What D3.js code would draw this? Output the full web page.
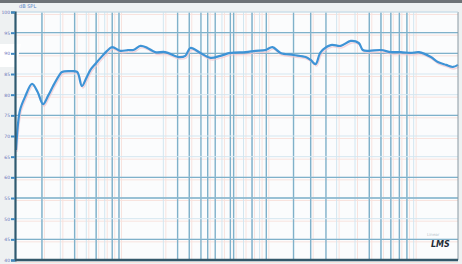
<!DOCTYPE html>
<html>
<head>
<meta charset="utf-8">
<script src="https://cdn.jsdelivr.net/npm/d3@7"></script>
<style>
  body { margin: 0; background: #eef1f2; }
  svg { display: block; }
</style>
</head>
<body>
<div id="viz"></div>
<script>
// frequency response
var freqs = [20, 20.6, 21.3, 23, 25.7, 28, 30.5, 33, 35.7, 39, 41, 47, 52, 56, 60, 64, 69, 75, 83, 90,
             102, 115, 125, 140, 156, 176, 206, 253, 282, 305, 357, 418, 488, 571, 723, 845, 988, 1100,
             1250, 1530, 1850, 2000, 2160, 2340, 2740, 3200, 3740, 4240, 4520, 4970, 5990, 7000, 8190,
             9580, 10860, 13100, 14600, 16600, 18500, 20000];
var spl = [66.6, 72.7, 76.3, 79.4, 82.6, 80.7, 77.7, 79.7, 82.1, 84.5, 85.5, 85.7, 85.5, 82.1, 84.0,
           86.0, 87.4, 88.9, 90.6, 91.5, 90.6, 90.8, 90.8, 91.8, 91.3, 90.3, 90.3, 89.1, 89.4, 91.3,
           90.1, 88.9, 89.4, 90.1, 90.3, 90.6, 90.8, 91.5, 90.1, 89.6, 89.1, 88.4, 87.4, 90.3, 92.0,
           91.8, 93.0, 92.5, 90.8, 90.6, 90.8, 90.3, 90.3, 90.1, 90.3, 89.1, 87.9, 87.2, 86.7, 87.2];

var gridFreqs = [30, 40, 50, 60, 70, 80, 90, 100, 200, 300, 400, 500, 600, 700, 800, 900, 1000,
                 2000, 3000, 4000, 5000, 6000, 7000, 8000, 9000, 10000];
var darkFreqs = [30, 50, 70, 90, 100, 250, 300, 360, 400, 450, 570, 600, 800, 1000, 1530, 2000,
                 2540, 5000, 6000, 7000, 8000, 9000];
var dbTicks = [100, 95, 90, 85, 80, 75, 70, 65, 60, 55, 50, 45, 40];
var darkDb = [95, 90, 75, 60, 55, 45];

var W = 462, H = 264;
var m = {left: 15, right: 4, top: 12, bottom: 4};

var svg = d3.select("#viz").append("svg")
    .attr("width", W)
    .attr("height", H);

var x = d3.scaleLog().domain([20, 20000]).range([m.left + 1, W - m.right]);
var y = d3.scaleLinear().domain([40, 100]).range([H - m.bottom, m.top]);

// plot background
svg.append("rect")
    .attr("x", m.left).attr("y", m.top)
    .attr("width", W - m.right - m.left).attr("height", H - m.bottom - m.top)
    .style("fill", "#fbfcfd");

// scan colour fringing
svg.append("g").selectAll("line")
    .data(gridFreqs)
    .enter().append("line")
    .attr("x1", function(d) { return x(d) + 2.5; })
    .attr("x2", function(d) { return x(d) + 2.5; })
    .attr("y1", m.top).attr("y2", H - m.bottom)
    .style("stroke", "#f8e3de").style("stroke-width", 1);

svg.append("g").selectAll("line")
    .data(dbTicks)
    .enter().append("line")
    .attr("x1", m.left).attr("x2", W - m.right)
    .attr("y1", function(d) { return y(d) + 2.5; })
    .attr("y2", function(d) { return y(d) + 2.5; })
    .style("stroke", "#f8e3de").style("stroke-width", 1);

// grid
svg.append("g").selectAll("line")
    .data(gridFreqs)
    .enter().append("line")
    .attr("x1", function(d) { return x(d); })
    .attr("x2", function(d) { return x(d); })
    .attr("y1", m.top).attr("y2", H - m.bottom)
    .style("stroke", "#d2e6f0").style("stroke-width", 1);

svg.append("g").selectAll("line")
    .data(darkFreqs)
    .enter().append("line")
    .attr("x1", function(d) { return x(d); })
    .attr("x2", function(d) { return x(d); })
    .attr("y1", m.top).attr("y2", H - m.bottom)
    .style("stroke", "#7fb1ca").style("stroke-width", 1.4);

svg.append("g").selectAll("line")
    .data(dbTicks)
    .enter().append("line")
    .attr("x1", m.left).attr("x2", W - m.right)
    .attr("y1", function(d) { return y(d); })
    .attr("y2", function(d) { return y(d); })
    .style("stroke", "#d5e7f0").style("stroke-width", 1);

svg.append("g").selectAll("line")
    .data(darkDb)
    .enter().append("line")
    .attr("x1", m.left).attr("x2", W - m.right)
    .attr("y1", function(d) { return y(d); })
    .attr("y2", function(d) { return y(d); })
    .style("stroke", "#7fb1ca").style("stroke-width", 1.4);

// response curve
var line = d3.line()
    .x(function(d, i) { return x(freqs[i]); })
    .y(function(d) { return y(d); })
    .curve(d3.curveCatmullRom);

svg.append("path")
    .datum(spl)
    .attr("d", line)
    .attr("transform", "translate(1,2)")
    .style("fill", "none").style("stroke", "#f1c3cc").style("stroke-width", 1.4).style("opacity", 0.7);

svg.append("path")
    .datum(spl)
    .attr("d", line)
    .style("fill", "none").style("stroke", "#3e93d6").style("stroke-width", 2.2)
    .style("stroke-linejoin", "round");

// frame
svg.append("rect").attr("x", 0).attr("y", 0).attr("width", W).attr("height", 3).style("fill", "#6d7276");
svg.append("line")
    .attr("x1", W - m.right).attr("x2", W - m.right).attr("y1", m.top).attr("y2", H - m.bottom)
    .style("stroke", "#8a9aa3").style("stroke-width", 1);
svg.append("line")
    .attr("x1", m.left).attr("x2", W - m.right).attr("y1", m.top).attr("y2", m.top)
    .style("stroke", "#c8dbe6").style("stroke-width", 1);
svg.append("line")
    .attr("x1", m.left).attr("x2", W - m.right).attr("y1", H - m.bottom).attr("y2", H - m.bottom)
    .style("stroke", "#34596b").style("stroke-width", 2.5);

// white scrap over the axis
svg.append("polygon")
    .attr("points", "0,44 21,44 16,67 0,67")
    .style("fill", "#ffffff");

// y axis
var yAxis = d3.axisLeft(y).tickValues(dbTicks).tickSize(4).tickFormat(d3.format("d"));
var ya = svg.append("g")
    .attr("transform", "translate(" + m.left + ",0)")
    .call(yAxis);
ya.select(".domain").style("stroke", "#2f5a70").style("stroke-width", 2.2);
ya.selectAll(".tick line").style("stroke", "#3f88c0").style("stroke-width", 2);
ya.selectAll(".tick text")
    .attr("x", -5)
    .style("font-family", "DejaVu Sans").style("font-size", "4.5px").style("fill", "#6a72b8");

svg.append("text")
    .attr("x", 19).attr("y", 8)
    .style("font-family", "DejaVu Sans").style("font-size", "5px").style("fill", "#5b86c6")
    .text("dB SPL");

// logo
svg.append("text")
    .attr("x", 427).attr("y", 236)
    .style("font-family", "DejaVu Sans").style("font-size", "4px").style("fill", "#b9c4cc")
    .text("Linear");
svg.append("text")
    .attr("x", 431).attr("y", 247)
    .style("font-family", "DejaVu Sans").style("font-size", "8px").style("font-weight", "bold")
    .style("font-style", "italic").style("fill", "#1e2a36")
    .text("LMS");
</script>
</body>
</html>
